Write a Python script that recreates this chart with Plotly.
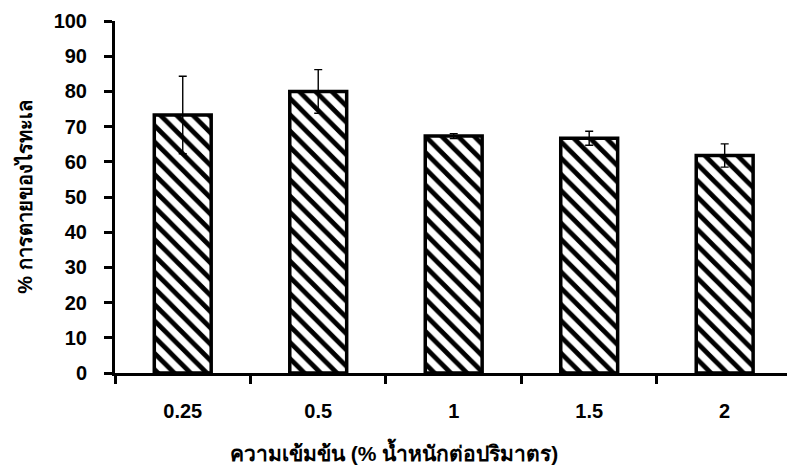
import plotly.graph_objects as go

# Concentration levels (% w/v) and mean mortality with standard deviation
concentrations = ["0.25", "0.5", "1", "1.5", "2"]
mortality = [73.3, 80.0, 67.3, 66.7, 61.8]
mortality_sd = [11.0, 6.2, 0.7, 2.0, 3.3]

y_ticks = [0, 10, 20, 30, 40, 50, 60, 70, 80, 90, 100]

x_title = "ความเข้มข้น (% น้ำหนักต่อปริมาตร)"
y_title = "% การตายของไรทะเล"

font_main = "Liberation Sans, Arial, sans-serif"

fig = go.Figure(
    go.Bar(
        x=concentrations,
        y=mortality,
        width=0.42,
        marker=dict(
            color="white",
            line=dict(color="black", width=3.5),
            pattern=dict(shape="\\", fgcolor="black", bgcolor="white",
                         fgopacity=1, size=11.5, solidity=0.42,
                         fillmode="replace"),
        ),
        error_y=dict(type="data", array=mortality_sd, visible=True,
                     color="black", thickness=1.4, width=4),
    )
)

fig.update_layout(
    width=787,
    height=471,
    margin=dict(l=115, r=0, t=21, b=98),
    paper_bgcolor="white",
    plot_bgcolor="rgba(0,0,0,0)",
    showlegend=False,
    font=dict(family=font_main, color="black"),
)

fig.update_xaxes(
    type="category",
    range=[-0.5, 4.46],
    tickson="boundaries",
    tickmode="array",
    tickvals=concentrations,
    ticktext=[f"<b>{c}</b>" for c in concentrations],
    ticks="outside",
    ticklen=8,
    tickwidth=3,
    tickcolor="black",
    ticklabelstandoff=18,
    showline=True,
    linecolor="black",
    linewidth=3,
    showgrid=False,
    tickfont=dict(size=20, family=font_main),
)

fig.update_yaxes(
    range=[0, 100],
    tickmode="array",
    tickvals=y_ticks,
    ticktext=[f"<b>{v}</b>" for v in y_ticks],
    ticks="outside",
    ticklen=8,
    tickwidth=3,
    tickcolor="black",
    ticklabelstandoff=13,
    showline=True,
    linecolor="black",
    linewidth=3,
    showgrid=False,
    zeroline=False,
    tickfont=dict(size=20, family=font_main),
    title=dict(text=f"<b>{y_title}</b>",
               font=dict(size=20, family=font_main), standoff=16),
)

# x-axis title placed as an annotation (sits left of the plot centre)
fig.add_annotation(
    text=f"<b>{x_title}</b>",
    xref="paper", yref="paper",
    x=0.415, y=-0.224,
    xanchor="center", yanchor="middle",
    showarrow=False,
    font=dict(size=21, family=font_main, color="black"),
)

fig.write_html("out.html")
